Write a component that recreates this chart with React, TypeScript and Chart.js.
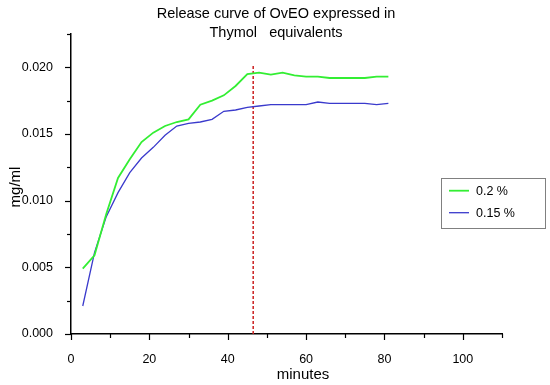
import React, { useEffect, useRef } from "react";
import { Chart, registerables } from "chart.js";

Chart.register(...registerables);

const minutes = [3, 6, 9, 12, 15, 18, 21, 24, 27, 30, 33, 36, 39, 42, 45, 48, 51, 54, 57, 60, 63, 66, 69, 72, 75, 78, 81];
const green02 = [0.0049, 0.0059, 0.0090, 0.0117, 0.0131, 0.0144, 0.0151, 0.0156, 0.0159, 0.0161, 0.0172, 0.0175, 0.0179, 0.0186, 0.0195, 0.0196, 0.01945, 0.0196, 0.0194, 0.0193, 0.0193, 0.0192, 0.0192, 0.0192, 0.0192, 0.0193, 0.0193];
const blue015 = [0.0021, 0.0061, 0.0088, 0.0106, 0.0121, 0.0132, 0.0140, 0.0149, 0.0156, 0.0158, 0.0159, 0.0161, 0.0167, 0.0168, 0.0170, 0.0171, 0.0172, 0.0172, 0.0172, 0.0172, 0.0174, 0.0173, 0.0173, 0.0173, 0.0173, 0.0172, 0.0173];
const markerMinute = [46.5, 46.5];
const markerValues = [0, 0.0202];
const seriesLabels = ["0.2 %", "0.15 %"];
const titleLines = ["Release curve of OvEO expressed in", "Thymol   equivalents"];
const xTitle = "minutes";
const yTitle = "mg/ml";
const yMajorTicks = [0, 0.005, 0.01, 0.015, 0.02];
const yMinorTicks = [0.0025, 0.0075, 0.0125, 0.0175, 0.0225];
const xMajorTicks = [0, 20, 40, 60, 80, 100];
const xMinorTicks = [10, 30, 50, 70, 90, 110];

const FONT = "'Liberation Sans', Arial, sans-serif";
const GREEN = "#33ee33";
const BLUE = "#3a3acc";

const decorPlugin = {
  id: "decor",
  afterDraw(chart: any) {
    const ctx = chart.ctx;
    const xs = chart.scales.x;
    const ys = chart.scales.y;
    const area = chart.chartArea;
    ctx.save();
    ctx.strokeStyle = "#000";
    ctx.lineWidth = 1.2;
    // y ticks
    for (const v of yMajorTicks) {
      const y = Math.round(ys.getPixelForValue(v)) + 0.5;
      ctx.beginPath(); ctx.moveTo(area.left - 6, y); ctx.lineTo(area.left, y); ctx.stroke();
    }
    for (const v of yMinorTicks) {
      const y = Math.round(ys.getPixelForValue(v)) + 0.5;
      ctx.beginPath(); ctx.moveTo(area.left - 4, y); ctx.lineTo(area.left, y); ctx.stroke();
    }
    for (const v of xMajorTicks) {
      const x = Math.round(xs.getPixelForValue(v)) + 0.5;
      ctx.beginPath(); ctx.moveTo(x, area.bottom); ctx.lineTo(x, area.bottom + 6); ctx.stroke();
    }
    for (const v of xMinorTicks) {
      const x = Math.round(xs.getPixelForValue(v)) + 0.5;
      ctx.beginPath(); ctx.moveTo(x, area.bottom); ctx.lineTo(x, area.bottom + 4); ctx.stroke();
    }
    // title
    ctx.fillStyle = "#000";
    ctx.font = `14.5px ${FONT}`;
    ctx.textAlign = "center";
    ctx.textBaseline = "alphabetic";
    ctx.fillText(titleLines[0], 276, 17.7);
    ctx.fillText(titleLines[1], 276, 37);
    // x title
    ctx.font = `15px ${FONT}`;
    ctx.fillText(xTitle, 303, 379);
    // y title
    ctx.save();
    ctx.translate(20, 187);
    ctx.rotate(-Math.PI / 2);
    ctx.fillText(yTitle, 0, 0);
    ctx.restore();
    // legend
    ctx.strokeStyle = "#808080";
    ctx.lineWidth = 1;
    ctx.strokeRect(441.5, 178.5, 104, 50);
    const colors = [GREEN, BLUE];
    const rows = [190.7, 212.7];
    ctx.font = `12.5px ${FONT}`;
    ctx.textAlign = "left";
    ctx.textBaseline = "middle";
    for (let i = 0; i < 2; i++) {
      ctx.strokeStyle = colors[i];
      ctx.lineWidth = i === 0 ? 1.8 : 1.3;
      ctx.beginPath(); ctx.moveTo(449, rows[i]); ctx.lineTo(469, rows[i]); ctx.stroke();
      ctx.fillStyle = "#000";
      ctx.fillText(seriesLabels[i], 476, rows[i] + 0.5);
    }
    ctx.restore();
  },
};

export default function App() {
  const ref = useRef<HTMLCanvasElement>(null);
  useEffect(() => {
    if (!ref.current) return;
    const chart = new Chart(ref.current, {
      type: "line",
      data: {
        datasets: [
          {
            label: seriesLabels[0],
            data: minutes.map((m, i) => ({ x: m, y: green02[i] })),
            borderColor: GREEN,
            borderWidth: 1.8,
            pointRadius: 0,
            tension: 0,
          },
          {
            label: seriesLabels[1],
            data: minutes.map((m, i) => ({ x: m, y: blue015[i] })),
            borderColor: BLUE,
            borderWidth: 1.3,
            pointRadius: 0,
            tension: 0,
          },
          {
            label: "marker",
            data: markerMinute.map((m, i) => ({ x: m, y: markerValues[i] })),
            borderColor: "#cc2020",
            borderWidth: 1.5,
            borderDash: [3, 2],
            pointRadius: 0,
          },
        ],
      },
      options: {
        animation: false,
        responsive: true,
        maintainAspectRatio: false,
        layout: { padding: { left: 0, top: 34, right: 48, bottom: 0 } },
        plugins: { legend: { display: false }, title: { display: false }, tooltip: { enabled: false } },
        scales: {
          x: {
            type: "linear",
            min: 0,
            max: 110,
            grid: { display: false },
            border: { display: true, color: "#000", width: 1.5 },
            ticks: {
              stepSize: 20,
              includeBounds: false,
              padding: 10,
              color: "#000",
              maxRotation: 0,
              font: { family: FONT, size: 12.5 },
            },
            afterFit: (s: any) => { s.height = 51; },
          },
          y: {
            min: 0,
            max: 0.0225,
            grid: { display: false },
            border: { display: true, color: "#000", width: 1.5 },
            ticks: {
              stepSize: 0.005,
              includeBounds: false,
              padding: 10,
              color: "#000",
              font: { family: FONT, size: 12.5 },
              callback: (v: any) => Number(v).toFixed(3),
            },
            afterFit: (s: any) => { s.width = 71; },
          },
        },
      },
      plugins: [decorPlugin],
    });
    return () => chart.destroy();
  }, []);
  return (
    <div style={{ position: "absolute", left: 0, top: 0, width: 550, height: 385, background: "#fff" }}>
      <canvas ref={ref} />
    </div>
  );
}
